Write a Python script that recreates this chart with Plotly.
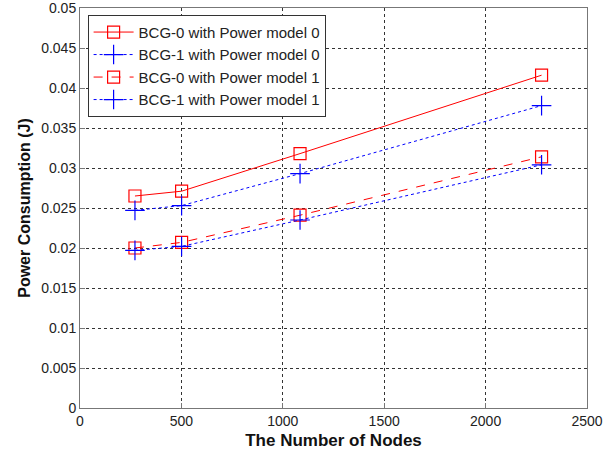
import plotly.graph_objects as go

nodes = [271, 501, 1085, 2276]
bcg0_pm0 = [0.0265, 0.0271, 0.0318, 0.0416]
bcg1_pm0 = [0.0247, 0.0253, 0.0293, 0.0378]
bcg0_pm1 = [0.0200, 0.0207, 0.0241, 0.0314]
bcg1_pm1 = [0.0197, 0.0202, 0.0235, 0.0304]

names = ["BCG-0 with Power model 0", "BCG-1 with Power model 0",
         "BCG-0 with Power model 1", "BCG-1 with Power model 1"]
series = [bcg0_pm0, bcg1_pm0, bcg0_pm1, bcg1_pm1]
colors = ["#ff0000", "#0000ff", "#ff0000", "#0000ff"]
dashes = ["solid", "dot", "dash", "dot"]
symbols = ["square-open", "cross-thin", "square-open", "cross-thin"]
sizes = [12, 14, 12, 14]

fig = go.Figure()
for n, s, c, d, sym, sz in zip(names, series, colors, dashes, symbols, sizes):
    fig.add_trace(go.Scatter(
        x=nodes, y=s, name=n, mode="lines+markers",
        line=dict(color=c, width=1, dash=d),
        marker=dict(symbol=sym, size=sz, color=c, line=dict(color=c, width=1.2)),
    ))

fig.update_layout(
    width=607, height=459,
    margin=dict(l=80, r=20, t=8, b=51),
    paper_bgcolor="white", plot_bgcolor="white",
    font=dict(family="Liberation Sans, Arial, sans-serif", size=14, color="#222"),
    showlegend=True,
    legend=dict(x=0.015, y=0.983, xanchor="left", yanchor="top",
                bordercolor="#333", borderwidth=1, bgcolor="white",
                font=dict(size=15), tracegroupgap=0, itemwidth=40),
    xaxis=dict(range=[0, 2500], tickvals=[0, 500, 1000, 1500, 2000, 2500],
               automargin=False, ticklabeloverflow="allow",
               showgrid=True, gridcolor="#333", griddash="dot", gridwidth=1,
               showline=True, linecolor="#777", mirror=True, ticks="inside",
               ticklen=5, tickcolor="#777", zeroline=False,
               title=dict(text="<b>The Number of Nodes</b>", font=dict(size=17, color="#111"), standoff=6)),
    yaxis=dict(range=[0, 0.05], dtick=0.005, tickformat="~g",
               automargin=False, ticklabeloverflow="allow",
               showgrid=True, gridcolor="#333", griddash="dot", gridwidth=1,
               showline=True, linecolor="#777", mirror=True, ticks="inside",
               ticklen=5, tickcolor="#777", zeroline=False,
               title=dict(text="<b>Power Consumption (J)</b>", font=dict(size=16, color="#111"), standoff=6)),
)

fig.write_html("out.html")
